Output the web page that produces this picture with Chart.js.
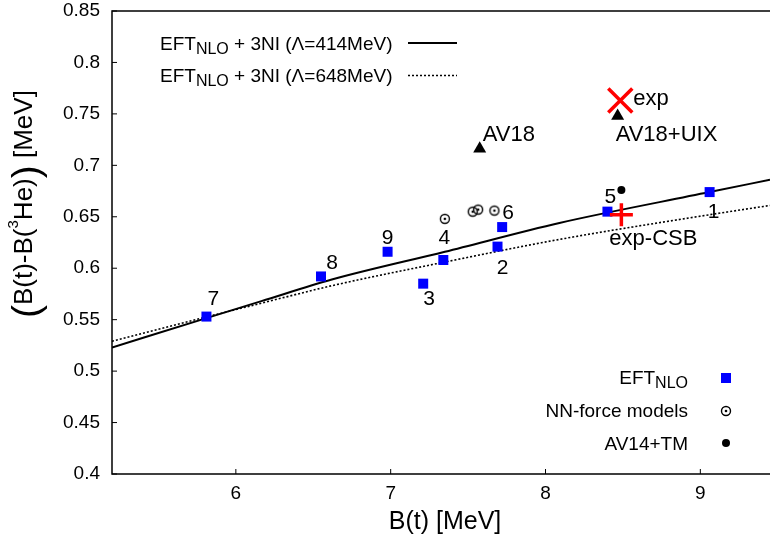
<!DOCTYPE html>
<html lang="en">
<head>
  <meta charset="UTF-8" />
  <title>B(t)-B(3He) vs B(t)</title>
  <script src="https://cdn.jsdelivr.net/npm/chart.js"></script>
  <style>
    body { margin: 0; background: #ffffff; }
  </style>
</head>
<body>
  <canvas id="chart" width="770" height="538"></canvas>

  <script>
    const FONT = "'Liberation Sans', Arial, sans-serif";

    // axes
    const xTicks = [6, 7, 8, 9];
    const yTicks = [0.4, 0.45, 0.5, 0.55, 0.6, 0.65, 0.7, 0.75, 0.8, 0.85];

    // EFT NLO results, numbered 1..9
    const eftNames = ["1", "2", "3", "4", "5", "6", "7", "8", "9"];
    const eftX = [9.06, 7.69, 7.21, 7.34, 8.40, 7.72, 5.81, 6.55, 6.98];
    const eftY = [0.674, 0.621, 0.585, 0.608, 0.655, 0.640, 0.553, 0.592, 0.616];

    // NN-force models
    const nnX = [7.35, 7.53, 7.565, 7.67];
    const nnY = [0.648, 0.655, 0.657, 0.656];

    // AV14+TM
    const av14X = [8.49];
    const av14Y = [0.676];

    // AV18 and AV18+UIX
    const avNames = ["AV18", "AV18+UIX"];
    const avX = [7.575, 8.466];
    const avY = [0.716, 0.748];

    // experiment
    const expX = [8.483];
    const expY = [0.763];
    const csbX = [8.49];
    const csbY = [0.652];

    // EFT NLO + 3NI curves
    const curveX = [5.2, 5.82, 6.165, 6.62, 7.35, 8.09, 9.06, 9.45];
    const curve414 = [0.523, 0.552, 0.568, 0.589, 0.616, 0.644, 0.674, 0.686];
    const curve648 = [0.529, 0.553, 0.566, 0.583, 0.606, 0.628, 0.652, 0.661];

    const pts = (xs, ys) => xs.map((x, i) => ({ x: x, y: ys[i] }));

    // label offsets (px) for the numbered points
    const eftOffsets = [[4, 20], [5, 22], [6, 16], [1, -22], [3, -14], [6, -14], [7, -17], [11, -13], [0, -14]];

    // open circle with a dot in the middle
    const ring = document.createElement("canvas");
    ring.width = 14;
    ring.height = 14;
    (function () {
      const c = ring.getContext("2d");
      c.strokeStyle = "#000";
      c.lineWidth = 1.4;
      c.beginPath();
      c.arc(7, 7, 4.5, 0, Math.PI * 2);
      c.stroke();
      c.fillStyle = "#000";
      c.beginPath();
      c.arc(7, 7, 1.3, 0, Math.PI * 2);
      c.fill();
    })();

    function drawRuns(ctx, x, y, runs, align) {
      let w = 0;
      runs.forEach(r => {
        ctx.font = r[1] + "px " + FONT;
        w += ctx.measureText(r[0]).width;
      });
      let cx = align === "right" ? x - w : (align === "center" ? x - w / 2 : x);
      ctx.textAlign = "left";
      runs.forEach(r => {
        ctx.font = r[1] + "px " + FONT;
        ctx.fillText(r[0], cx, y + (r[2] || 0));
        cx += ctx.measureText(r[0]).width;
      });
    }

    const overlay = {
      id: "overlay",
      afterDraw(chart) {
        const ctx = chart.ctx;
        const a = chart.chartArea;
        const xs = chart.scales.x;
        const ys = chart.scales.y;
        ctx.save();
        ctx.fillStyle = "#000";
        ctx.strokeStyle = "#000";

        // frame
        ctx.lineWidth = 1.5;
        ctx.beginPath();
        ctx.moveTo(a.right, a.top);
        ctx.lineTo(a.left, a.top);
        ctx.lineTo(a.left, a.bottom);
        ctx.lineTo(a.right, a.bottom);
        ctx.stroke();

        // inward tick marks
        ctx.lineWidth = 1;
        ctx.beginPath();
        xTicks.forEach(v => {
          const px = xs.getPixelForValue(v);
          ctx.moveTo(px, a.bottom);
          ctx.lineTo(px, a.bottom - 5);
        });
        yTicks.forEach(v => {
          const py = ys.getPixelForValue(v);
          ctx.moveTo(a.left, py);
          ctx.lineTo(a.left + 5, py);
        });
        ctx.stroke();

        // point labels
        ctx.textBaseline = "middle";
        ctx.font = "21px " + FONT;
        ctx.textAlign = "center";
        eftNames.forEach((n, i) => {
          const px = xs.getPixelForValue(eftX[i]);
          const py = ys.getPixelForValue(eftY[i]);
          ctx.fillText(n, px + eftOffsets[i][0], py + eftOffsets[i][1]);
        });
        ctx.font = "22px " + FONT;
        ctx.textAlign = "left";
        ctx.fillText(avNames[0], xs.getPixelForValue(avX[0]) + 3, ys.getPixelForValue(avY[0]) - 14);
        ctx.fillText(avNames[1], xs.getPixelForValue(avX[1]) - 2, ys.getPixelForValue(avY[1]) + 19);
        ctx.fillText("exp", xs.getPixelForValue(expX[0]) + 13, ys.getPixelForValue(expY[0]) - 2);
        ctx.fillText("exp-CSB", xs.getPixelForValue(csbX[0]) - 12, ys.getPixelForValue(csbY[0]) + 24);

        // legend, top left
        ctx.textBaseline = "alphabetic";
        drawRuns(ctx, 160, 49.5, [["EFT", 19], ["NLO", 16, 4], [" + 3NI (\u039B=414MeV)", 19]], "left");
        drawRuns(ctx, 160, 82, [["EFT", 19], ["NLO", 16, 4], [" + 3NI (\u039B=648MeV)", 19]], "left");
        ctx.lineWidth = 2;
        ctx.beginPath();
        ctx.moveTo(408, 43);
        ctx.lineTo(457, 43);
        ctx.stroke();
        ctx.lineWidth = 1.6;
        ctx.setLineDash([2, 2]);
        ctx.beginPath();
        ctx.moveTo(408, 75.5);
        ctx.lineTo(457, 75.5);
        ctx.stroke();
        ctx.setLineDash([]);

        // legend, bottom right
        drawRuns(ctx, 688, 383.5, [["EFT", 19], ["NLO", 16, 4]], "right");
        drawRuns(ctx, 688, 417, [["NN-force models", 19]], "right");
        drawRuns(ctx, 688, 450, [["AV14+TM", 19]], "right");
        ctx.fillStyle = "#0000ff";
        ctx.fillRect(721, 373, 10, 10);
        ctx.drawImage(ring, 726 - 7, 411 - 7);
        ctx.fillStyle = "#000";
        ctx.beginPath();
        ctx.arc(726, 443, 4, 0, Math.PI * 2);
        ctx.fill();

        // axis titles
        ctx.textBaseline = "middle";
        ctx.font = "25px " + FONT;
        ctx.textAlign = "center";
        ctx.fillText("B(t) [MeV]", 445, 522);

        ctx.translate(32, 318);
        ctx.rotate(-Math.PI / 2);
        ctx.textBaseline = "alphabetic";
        drawRuns(ctx, 0, 0, [["(", 39, 6.5], ["B(t)-B(", 26], ["3", 15, -14], ["He)", 26], [")", 39, 6.5], [" [MeV]", 26]], "left");
        ctx.restore();
      }
    };

    new Chart(document.getElementById("chart"), {
      type: "scatter",
      data: {
        datasets: [
          {
            label: "exp",
            data: pts(expX, expY),
            pointStyle: "crossRot",
            pointRadius: 17,
            borderColor: "#ff0000",
            borderWidth: 3.5
          },
          {
            label: "exp-CSB",
            data: pts(csbX, csbY),
            pointStyle: "cross",
            pointRadius: 11.5,
            borderColor: "#ff0000",
            borderWidth: 3.5
          },
          {
            label: "AV18",
            data: pts(avX, avY),
            pointStyle: "triangle",
            pointRadius: 7.5,
            backgroundColor: "#000",
            borderColor: "#000",
            borderWidth: 0
          },
          {
            label: "AV14+TM",
            data: pts(av14X, av14Y),
            pointStyle: "circle",
            pointRadius: 4,
            backgroundColor: "#000",
            borderColor: "#000",
            borderWidth: 0
          },
          {
            label: "NN-force models",
            data: pts(nnX, nnY),
            pointStyle: ring,
            pointRadius: 5
          },
          {
            label: "EFT NLO",
            data: pts(eftX, eftY),
            pointStyle: "rect",
            pointRadius: 7.07,
            backgroundColor: "#0000ff",
            borderColor: "#0000ff",
            borderWidth: 0
          },
          {
            type: "line",
            label: "EFT NLO + 3NI (414MeV)",
            data: pts(curveX, curve414),
            showLine: true,
            pointRadius: 0,
            borderColor: "#000",
            borderWidth: 2,
            cubicInterpolationMode: "monotone",
            fill: false
          },
          {
            type: "line",
            label: "EFT NLO + 3NI (648MeV)",
            data: pts(curveX, curve648),
            showLine: true,
            pointRadius: 0,
            borderColor: "#000",
            borderWidth: 1.6,
            borderDash: [2, 2],
            cubicInterpolationMode: "monotone",
            fill: false
          }
        ]
      },
      options: {
        responsive: false,
        animation: false,
        events: [],
        layout: { autoPadding: false, padding: { top: 11, right: 0, left: 0, bottom: 0 } },
        plugins: {
          legend: { display: false },
          tooltip: { enabled: false },
          title: { display: false }
        },
        scales: {
          x: {
            type: "linear",
            min: 5.2,
            max: 9.45,
            afterBuildTicks: s => { s.ticks = xTicks.map(v => ({ value: v })); },
            afterFit: s => { s.height = 64; s.paddingLeft = 0; s.paddingRight = 0; },
            ticks: { font: { family: FONT, size: 19 }, color: "#000", padding: 8 },
            grid: { display: false, drawTicks: false },
            border: { display: false }
          },
          y: {
            type: "linear",
            min: 0.4,
            max: 0.85,
            afterBuildTicks: s => { s.ticks = yTicks.map(v => ({ value: v })); },
            afterFit: s => { s.width = 112; s.paddingTop = 0; s.paddingBottom = 0; },
            ticks: {
              font: { family: FONT, size: 19 },
              color: "#000",
              padding: 12,
              callback: v => String(+v.toFixed(2))
            },
            grid: { display: false, drawTicks: false },
            border: { display: false }
          }
        }
      },
      plugins: [overlay]
    });
  </script>
</body>
</html>
